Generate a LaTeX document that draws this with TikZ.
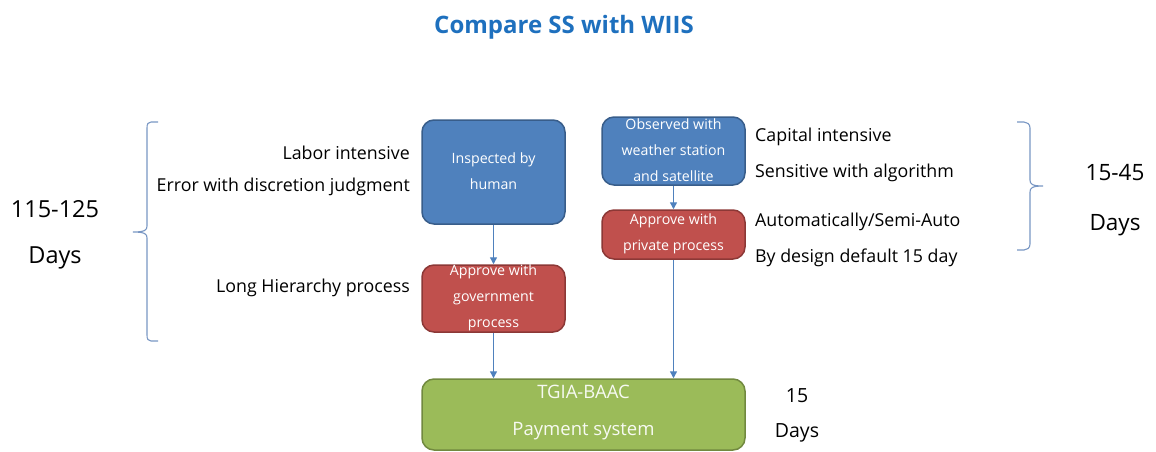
\documentclass[tikz,border=0pt]{standalone}
\usepackage{fontspec}
\setmainfont{Open Sans}
\usetikzlibrary{arrows.meta}

\definecolor{ssblue}{RGB}{79,129,189}
\definecolor{ssblueline}{RGB}{56,93,138}
\definecolor{ssred}{RGB}{192,80,77}
\definecolor{ssredline}{RGB}{140,56,54}
\definecolor{ssgreen}{RGB}{155,187,89}
\definecolor{ssgreenline}{RGB}{113,137,63}
\definecolor{sstitle}{RGB}{30,112,190}
\definecolor{ssbrace}{RGB}{120,150,195}

\begin{document}
\begin{tikzpicture}[x=1pt,y=1pt,yscale=-1,xscale=1,
  procbox/.style={rounded corners=12pt,line width=1.5pt,inner sep=0pt},
  bluebox/.style={procbox,fill=ssblue,draw=ssblueline},
  redbox/.style={procbox,fill=ssred,draw=ssredline},
  greenbox/.style={procbox,fill=ssgreen,draw=ssgreenline},
  boxtext/.style={text=white,align=center,inner sep=0pt,font=\fontsize{14.2}{26}\selectfont},
  sidetext/.style={inner sep=0pt,font=\fontsize{17.8}{20}\selectfont},
  bigtext/.style={inner sep=0pt,font=\fontsize{22.5}{25}\selectfont},
  flow/.style={draw=ssblue,line width=1.3pt,-{Triangle[width=7pt,length=7pt]}},
  brace/.style={draw=ssbrace,line width=1.1pt}]
\useasboundingbox (0,0) rectangle (1156,451);

% Title
\node[font=\fontsize{24}{28}\selectfont\bfseries,text=sstitle,inner sep=0pt] (title) at (564,27) {Compare SS with WIIS};

% Boxes
\node[bluebox,minimum width=143pt,minimum height=104pt] (insp) at (493.5,172) {};
\node[bluebox,minimum width=143pt,minimum height=68pt] (obs) at (673.5,151) {};
\node[redbox,minimum width=143pt,minimum height=49pt] (priv) at (673.5,234.5) {};
\node[redbox,minimum width=143pt,minimum height=67pt] (gov) at (493.5,298.5) {};
\node[greenbox,minimum width=323pt,minimum height=71pt] (pay) at (583.5,414.5) {};

% Box texts
\node[boxtext] (insp-t) at (493.5,171) {Inspected by\\human};
\node[boxtext] (obs-t) at (673.5,150) {Observed with\\weather station\\and satellite};
\node[boxtext] (priv-t) at (673.5,233.5) {Approve with\\private process};
\node[boxtext] (gov-t) at (493.5,298) {Approve with\\government\\process};
\node[boxtext,font=\fontsize{18.5}{37}\selectfont,text=white!92!ssgreen] (pay-t) at (583.5,413) {TGIA-BAAC\\Payment system};

% Connectors
\draw[flow] (insp) -- (gov);
\draw[flow] (obs) -- (priv);
\draw[flow] (gov) -- (gov |- pay.north);
\draw[flow] (priv) -- (priv |- pay.north);

% Left side notes
\node[sidetext,anchor=east] (labor) at (410,153) {Labor intensive};
\node[sidetext,anchor=east] (error) at (410,187) {Error with discretion judgment};
\node[sidetext,anchor=east] (hier) at (410,288) {Long Hierarchy process};

% Right side notes
\node[sidetext,anchor=west] (capital) at (755,137) {Capital intensive};
\node[sidetext,anchor=west] (algo) at (755,173) {Sensitive with algorithm};
\node[sidetext,anchor=west] (auto) at (755,222) {Automatically/Semi-Auto};
\node[sidetext,anchor=west] (default) at (755,258) {By design default 15 day};

% Braces
\draw[brace] (158,122) -- (151,122) .. controls (148,122) and (147,124) .. (147,128) -- (147,226)
  .. controls (147,230) and (145,232) .. (133,232) .. controls (145,232) and (147,234) .. (147,238)
  -- (147,335) .. controls (147,339) and (148,341) .. (151,341) -- (158,341);
\draw[brace] (1017,122) -- (1024,122) .. controls (1027,122) and (1030,124) .. (1030,128) -- (1030,180)
  .. controls (1030,184) and (1032,186) .. (1043,186) .. controls (1032,186) and (1030,188) .. (1030,192)
  -- (1030,244) .. controls (1030,248) and (1027,250) .. (1024,250) -- (1017,250);

% Durations
\node[bigtext,font=\fontsize{23.5}{25}\selectfont] (left-n) at (55,209) {115-125};
\node[bigtext,font=\fontsize{23.5}{25}\selectfont] (left-d) at (55,258) {Days};
\node[bigtext] (right-n) at (1115,173) {15-45};
\node[bigtext] (right-d) at (1115,225) {Days};
\node[sidetext,font=\fontsize{19.5}{22}\selectfont] (pay-n) at (797,396) {15};
\node[sidetext,font=\fontsize{19.5}{22}\selectfont] (pay-d) at (797,433) {Days};

\end{tikzpicture}
\end{document}
